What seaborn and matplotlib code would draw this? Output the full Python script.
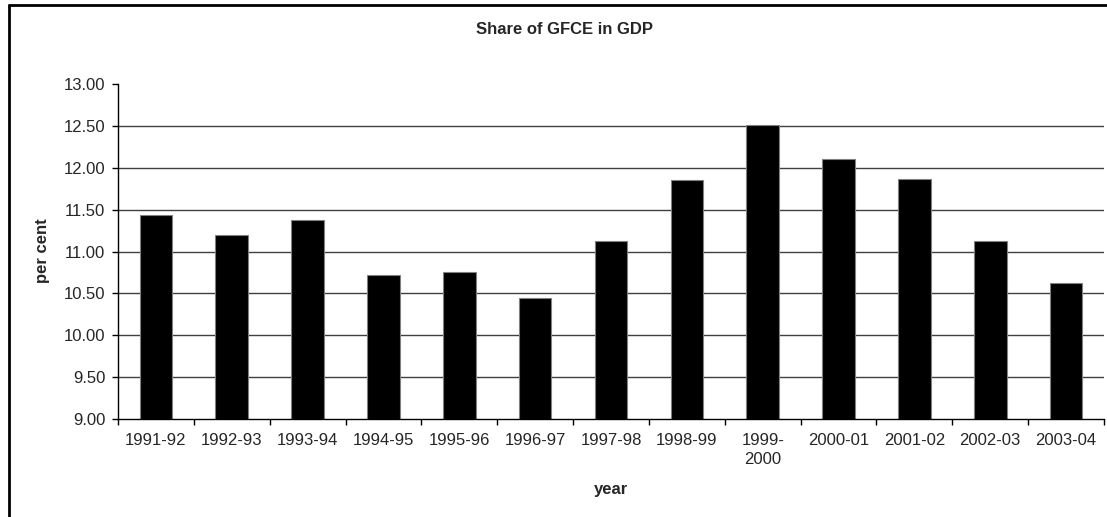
import matplotlib
matplotlib.use("Agg")
import matplotlib.pyplot as plt
import seaborn as sns
import pandas as pd
import numpy as np
from matplotlib.lines import Line2D

years = ["1991-92", "1992-93", "1993-94", "1994-95", "1995-96", "1996-97",
         "1997-98", "1998-99", "1999-\n2000", "2000-01", "2001-02", "2002-03", "2003-04"]
share = [11.43, 11.20, 11.38, 10.72, 10.75, 10.45, 11.12, 11.85, 12.51, 12.10, 11.87, 11.12, 10.62]
yticks = [9.00, 9.50, 10.00, 10.50, 11.00, 11.50, 12.00, 12.50, 13.00]

sns.set_theme(style="white")
plt.rcParams['font.family'] = ['Liberation Sans', 'DejaVu Sans']

df = pd.DataFrame({"year": years, "share": share})

W, H = 1107, 517
fig = plt.figure(figsize=(W / 100, H / 100), dpi=100)
ax = fig.add_axes([118 / W, 1 - 419 / H, (1104 - 118) / W, (419 - 84) / H])

for v in yticks[1:-1]:
    ax.axhline(v, color="#404040", lw=1.0, zorder=0)

sns.barplot(data=df, x="year", y="share", color="black", width=0.43,
            edgecolor="#808080", linewidth=0.8, saturation=1, ax=ax, zorder=2)

ax.set_ylim(9.0, 13.0)
ax.set_xlim(-0.5, len(years) - 0.5)
ax.set_yticks(yticks)
ax.set_yticklabels([f"{v:.2f}" for v in yticks], fontsize=12)
ax.set_xticks(range(len(years)))
ax.set_xticklabels(years, fontsize=12, linespacing=1.35)
ax.set_xticks(np.arange(-0.5, len(years)), minor=True)
ax.tick_params(axis="x", which="major", length=0, pad=10)
ax.tick_params(axis="x", which="minor", length=4, width=1, color="black", direction="out", bottom=True)
ax.tick_params(axis="y", length=4, width=1, color="black", direction="out", left=True, pad=5)

for s in ["top", "right"]:
    ax.spines[s].set_visible(False)
for s in ["left", "bottom"]:
    ax.spines[s].set_color("black")
    ax.spines[s].set_linewidth(1.0)

ax.set_xlabel("")
ax.set_ylabel("")
ax.grid(False)

fig.text(611 / W, 1 - 494 / H, "year", ha="center", va="baseline",
         fontsize=12, fontweight="bold")
fig.text(42 / W, 1 - 251 / H, "per cent", ha="center", va="center", rotation=90,
         fontsize=12, fontweight="bold")
fig.text(565 / W, 1 - 34 / H, "Share of GFCE in GDP", ha="center", va="baseline",
         fontsize=12, fontweight="bold")

# outer chart border (left and top visible)
fig.add_artist(Line2D([9 / W, 9 / W], [0, 1 - 5 / H], transform=fig.transFigure, color="black", lw=2))
fig.add_artist(Line2D([9 / W, 1], [1 - 5 / H, 1 - 5 / H], transform=fig.transFigure, color="black", lw=2))

fig.savefig("out.png", dpi=100)
